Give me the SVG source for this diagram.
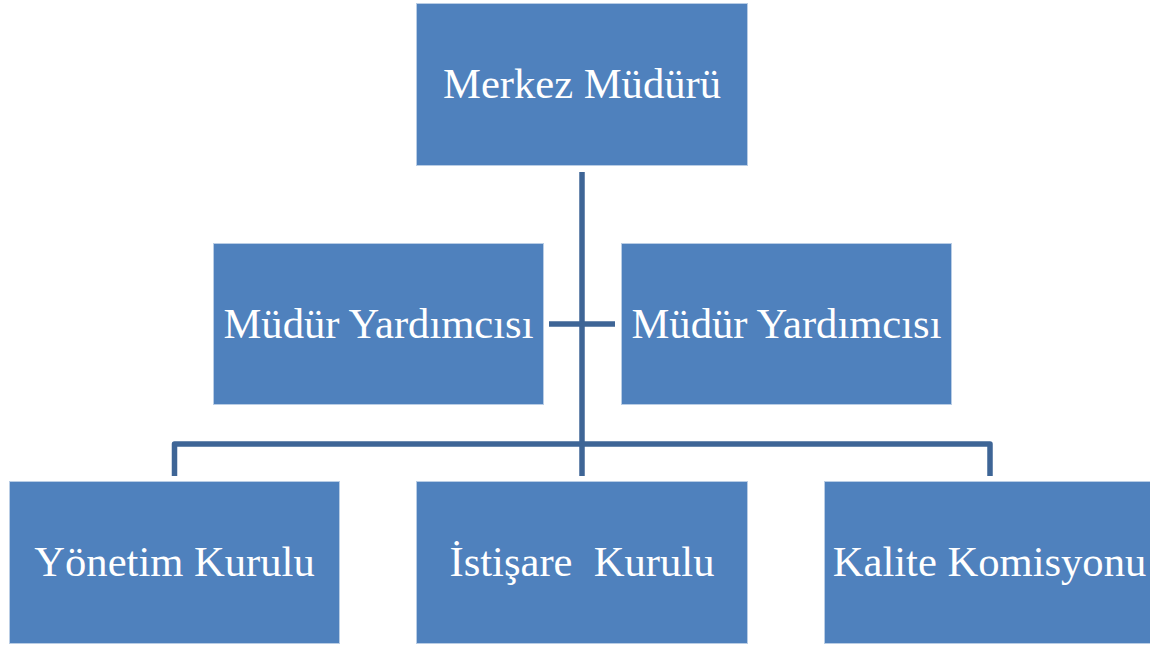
<svg xmlns="http://www.w3.org/2000/svg" width="1150" height="645" viewBox="0 0 1150 645">
<style>
.box{fill:#4F81BD;stroke:#B9CDE5;stroke-width:1}
.lbl{font-family:"Liberation Serif","Times New Roman",serif;font-size:42.6px;fill:#FFFFFF;text-anchor:middle;white-space:pre}
.conn{fill:none;stroke:#3E6596;stroke-width:5.5;stroke-linejoin:round}
</style>
<rect width="1150" height="645" fill="#FFFFFF"/>
<g id="connectors">
<path class="conn" d="M582 172 V476"/>
<path class="conn" d="M549 324 H615"/>
<path class="conn" d="M174.5 476 V444 H990 V476"/>
</g>
<g id="merkez-muduru">
<rect class="box" x="416.5" y="3.5" width="331" height="162"/>
<text class="lbl" x="582" y="98">Merkez Müdürü</text>
</g>
<g id="mudur-yardimcisi-1">
<rect class="box" x="213.5" y="243.5" width="330" height="161"/>
<text class="lbl" x="378.5" y="338">Müdür Yardımcısı</text>
</g>
<g id="mudur-yardimcisi-2">
<rect class="box" x="621.5" y="243.5" width="330" height="161"/>
<text class="lbl" x="786.5" y="338">Müdür Yardımcısı</text>
</g>
<g id="yonetim-kurulu">
<rect class="box" x="9.5" y="481.5" width="330" height="162"/>
<text class="lbl" x="174.5" y="576">Yönetim Kurulu</text>
</g>
<g id="istisare-kurulu">
<rect class="box" x="416.5" y="481.5" width="331" height="162"/>
<text class="lbl" x="582" y="576" xml:space="preserve">İstişare  Kurulu</text>
</g>
<g id="kalite-komisyonu">
<rect class="box" x="824.5" y="481.5" width="331" height="162"/>
<text class="lbl" x="989.5" y="576">Kalite Komisyonu</text>
</g>
</svg>
